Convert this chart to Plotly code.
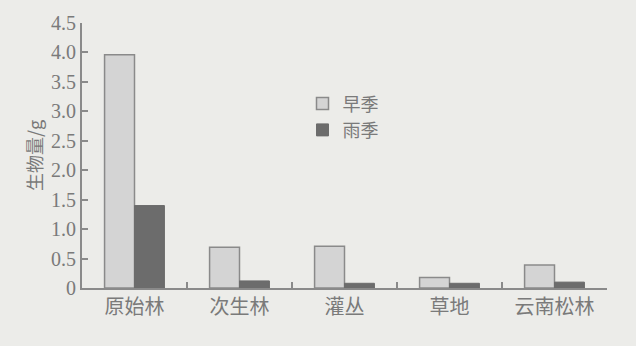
import plotly.graph_objects as go

categories = ["原始林", "次生林", "灌丛", "草地", "云南松林"]
dry_season = [3.96, 0.69, 0.71, 0.18, 0.39]
rainy_season = [1.40, 0.12, 0.08, 0.08, 0.10]
series_names = ["早季", "雨季"]
y_ticks = [0, 0.5, 1.0, 1.5, 2.0, 2.5, 3.0, 3.5, 4.0, 4.5]
y_tick_labels = ["0", "0.5", "1.0", "1.5", "2.0", "2.5", "3.0", "3.5", "4.0", "4.5"]

txt = "#7a7a7a"
fig = go.Figure()
fig.add_trace(go.Bar(x=categories, y=dry_season, name=series_names[0],
                     marker=dict(color="#d4d4d4", line=dict(color="#8a8a8a", width=1.5))))
fig.add_trace(go.Bar(x=categories, y=rainy_season, name=series_names[1],
                     marker=dict(color="#6c6c6c", line=dict(color="#6c6c6c", width=1))))

fig.update_layout(
    width=636, height=346,
    margin=dict(l=82, r=29, t=23, b=58),
    paper_bgcolor="#ecece9", plot_bgcolor="#ecece9",
    barmode="group", bargap=0.43, bargroupgap=0,
    font=dict(family="Liberation Serif, Noto Sans CJK SC", color=txt, size=18),
    legend=dict(x=0.42, y=0.765, xanchor="left", yanchor="top",
                bgcolor="rgba(0,0,0,0)", font=dict(size=18, family="Noto Sans CJK SC", color=txt),
                itemwidth=30, tracegroupgap=0),
    showlegend=True,
)
fig.update_xaxes(showline=True, linecolor="#8a8a8a", linewidth=2, ticks="inside",
                 tickson="boundaries", ticklen=6, tickcolor="#8a8a8a", tickwidth=1.5,
                 tickfont=dict(family="Noto Sans CJK SC", size=20, color=txt),
                 showgrid=False, mirror=False)
fig.update_yaxes(range=[0, 4.5], showline=True, linecolor="#8a8a8a", linewidth=2,
                 ticks="inside", ticklen=6, tickcolor="#8a8a8a", tickwidth=1.5,
                 tickvals=y_ticks, ticktext=y_tick_labels, showgrid=False, zeroline=False,
                 tickfont=dict(family="Liberation Serif", size=20, color=txt),
                 title=dict(text="生物量/g", font=dict(family="Noto Sans CJK SC", size=18, color=txt),
                            standoff=4))

fig.write_html("out.html")
